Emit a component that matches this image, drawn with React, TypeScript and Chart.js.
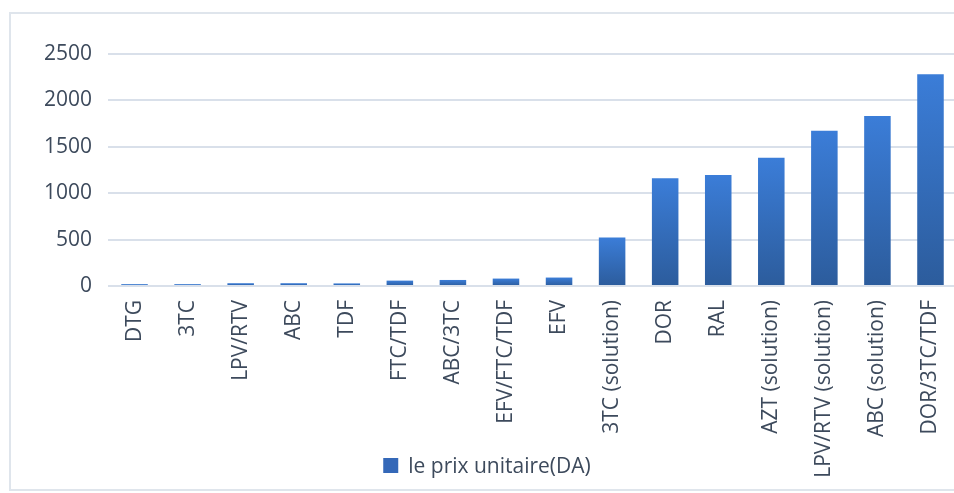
import React, { useEffect, useRef } from "react";
import { Chart, registerables } from "chart.js";

Chart.register(...registerables);

const categories = [
  "DTG",
  "3TC",
  "LPV/RTV",
  "ABC",
  "TDF",
  "FTC/TDF",
  "ABC/3TC",
  "EFV/FTC/TDF",
  "EFV",
  "3TC (solution)",
  "DOR",
  "RAL",
  "AZT (solution)",
  "LPV/RTV (solution)",
  "ABC (solution)",
  "DOR/3TC/TDF",
];

const prices = [20, 20, 30, 30, 28, 58, 65, 80, 91, 523, 1160, 1196, 1382, 1674, 1833, 2283];

const seriesLabel = "le prix unitaire(DA)";
const yMin = 0;
const yMax = 2500;
const yStep = 500;

const TEXT = "#3d4a5c";
const GRID = "#d9e0ea";
const FONT = "'Open Sans', 'Noto Sans', sans-serif";
const LEGEND_COLOR = "#3468b8";

const bottomLegend = {
  id: "bottomLegend",
  afterDraw(chart: any) {
    const ctx = chart.ctx;
    const ds = chart.data.datasets[0];
    const text = String(ds.label);
    ctx.save();
    ctx.font = `21px ${FONT}`;
    const tw = ctx.measureText(text).width;
    const box = 15;
    const gap = 10;
    const total = box + gap + tw;
    const cx = 487;
    const x0 = cx - total / 2;
    const baseline = 473;
    ctx.fillStyle = LEGEND_COLOR;
    ctx.fillRect(x0, 458, box, box);
    ctx.fillStyle = TEXT;
    ctx.textBaseline = "alphabetic";
    ctx.textAlign = "left";
    ctx.fillText(text, x0 + box + gap, baseline);
    ctx.restore();
  },
};

export default function App() {
  const canvasRef = useRef<HTMLCanvasElement | null>(null);

  useEffect(() => {
    const canvas = canvasRef.current;
    if (!canvas) return;
    const chart = new Chart(canvas, {
      type: "bar",
      data: {
        labels: categories,
        datasets: [
          {
            label: seriesLabel,
            data: prices,
            backgroundColor: (ctx: any) => {
              const c = ctx.chart;
              if (ctx.type !== "data" || !c.chartArea || !c.scales.y) return LEGEND_COLOR;
              const ys = c.scales.y;
              const top = ys.getPixelForValue(ctx.raw);
              const bottom = ys.getPixelForValue(0);
              if (!isFinite(top) || !isFinite(bottom) || top === bottom) return LEGEND_COLOR;
              const g = c.ctx.createLinearGradient(0, top, 0, bottom);
              g.addColorStop(0, "#3b7dd8");
              g.addColorStop(1, "#2c5c9c");
              return g;
            },
            borderWidth: 0,
            categoryPercentage: 0.5,
            barPercentage: 1,
          },
        ],
      },
      options: {
        responsive: false,
        maintainAspectRatio: false,
        animation: false,
        layout: { padding: { top: 54, right: 10, bottom: 0, left: 0 } },
        plugins: {
          title: { display: false },
          tooltip: { enabled: false },
          legend: { display: false },
        },
        scales: {
          x: {
            grid: { display: false, drawTicks: false },
            border: { display: false },
            ticks: {
              color: TEXT,
              font: { family: FONT, size: 21 },
              minRotation: 90,
              maxRotation: 90,
              autoSkip: false,
              padding: 14,
            },
            afterFit: (scale: any) => {
              scale.height = 207;
            },
          },
          y: {
            min: yMin,
            max: yMax,
            grid: { color: GRID, lineWidth: 2, drawTicks: false },
            border: { display: false },
            ticks: {
              stepSize: yStep,
              color: TEXT,
              font: { family: FONT, size: 21 },
              padding: 16,
              callback: (v: any) => String(v),
            },
            afterFit: (scale: any) => {
              scale.width = 108;
            },
          },
        },
      },
      plugins: [bottomLegend],
    });
    return () => chart.destroy();
  }, []);

  return (
    <div
      style={{
        position: "fixed",
        left: 0,
        top: 0,
        width: 954,
        height: 493,
        overflow: "hidden",
        background: "#ffffff",
      }}
    >
      <div
        style={{
          position: "absolute",
          left: 9,
          top: 12,
          width: 1000,
          height: 479,
          border: "2px solid #dfe5ec",
          boxSizing: "border-box",
        }}
      />
      <canvas
        ref={canvasRef}
        width={970}
        height={493}
        style={{ position: "absolute", left: 0, top: 0, width: 970, height: 493 }}
      />
    </div>
  );
}
